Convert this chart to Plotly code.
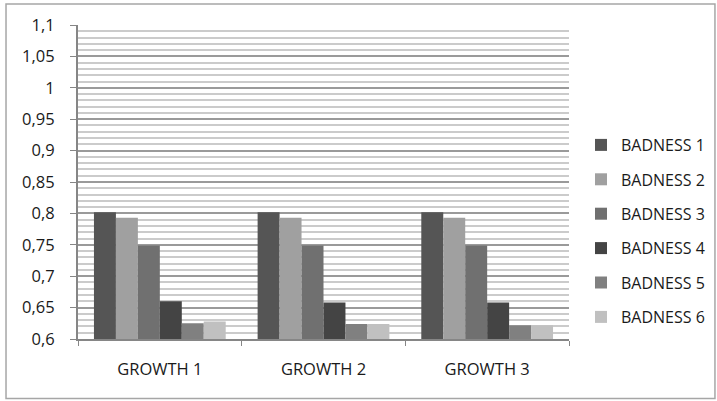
import plotly.graph_objects as go

# Categories and series values
categories = ["GROWTH 1", "GROWTH 2", "GROWTH 3"]
series_names = ["BADNESS 1", "BADNESS 2", "BADNESS 3", "BADNESS 4", "BADNESS 5", "BADNESS 6"]
badness_1 = [0.802, 0.802, 0.802]
badness_2 = [0.793, 0.793, 0.793]
badness_3 = [0.749, 0.749, 0.749]
badness_4 = [0.660, 0.658, 0.658]
badness_5 = [0.625, 0.624, 0.622]
badness_6 = [0.628, 0.624, 0.622]
y_tick_values = [0.6, 0.65, 0.7, 0.75, 0.8, 0.85, 0.9, 0.95, 1.0, 1.05, 1.1]
y_tick_labels = ["0,6", "0,65", "0,7", "0,75", "0,8", "0,85", "0,9", "0,95", "1", "1,05", "1,1"]

series_values = [badness_1, badness_2, badness_3, badness_4, badness_5, badness_6]
colors = ["#555555", "#a0a0a0", "#707070", "#444444", "#808080", "#c0c0c0"]

FONT = "Open Sans"
FSIZE = 16.5

fig = go.Figure()
for i, (name, vals, col) in enumerate(zip(series_names, series_values, colors)):
    fig.add_trace(go.Bar(
        x=categories, y=vals, name=name,
        marker=dict(color=col, line=dict(width=0)),
        legendgroup=f"g{i}",
    ))

W, H = 717, 401
left, right, top, bottom = 77.5, 572, 25, 339.5
pw, ph = right - left, bottom - top

def px_to_paper_x(px):
    return (px - left) / pw

def px_to_paper_y(py):
    return (bottom - py) / ph

fig.update_layout(
    width=W, height=H,
    margin=dict(l=left, r=W - right, t=top, b=H - bottom, pad=0),
    paper_bgcolor="white", plot_bgcolor="white",
    barmode="group", bargap=0.195, bargroupgap=0,
    font=dict(family=FONT, size=FSIZE, color="#1a1a1a"),
    showlegend=True,
    legend=dict(
        xref="container", yref="container",
        x=581 / W, y=1 - 128 / H, xanchor="left", yanchor="top",
        font=dict(family=FONT, size=16, color="#1a1a1a"),
        tracegroupgap=10.6, itemwidth=30, bgcolor="rgba(0,0,0,0)",
        traceorder="grouped", maxheight=380,
    ),
    xaxis=dict(
        type="category", tickson="boundaries", ticks="outside", ticklen=5,
        tickcolor="#868686", tickwidth=1,
        showline=True, linecolor="#868686", linewidth=2,
        showgrid=False, ticklabelstandoff=14,
        tickfont=dict(family=FONT, size=FSIZE, color="#1a1a1a"),
    ),
    yaxis=dict(
        range=[0.6, 1.1], tickvals=y_tick_values, ticktext=y_tick_labels,
        ticks="outside", ticklen=6, tickcolor="#868686", tickwidth=1,
        showline=True, linecolor="#868686", linewidth=2,
        showgrid=True, gridcolor="#9a9a9a", gridwidth=1.5,
        zeroline=False, ticklabelstandoff=12,
        tickfont=dict(family=FONT, size=FSIZE, color="#1a1a1a"),
        minor=dict(dtick=0.01, tick0=0.6, showgrid=True, gridcolor="#cbcbcb", gridwidth=1.5, ticks=""),
    ),
    shapes=[dict(
        type="rect", xref="paper", yref="paper",
        x0=px_to_paper_x(5), x1=px_to_paper_x(719),
        y0=px_to_paper_y(399), y1=px_to_paper_y(4),
        line=dict(color="#a6a6a6", width=1.5), fillcolor="rgba(0,0,0,0)", layer="below",
    )],
)

fig.write_html("out.html")
